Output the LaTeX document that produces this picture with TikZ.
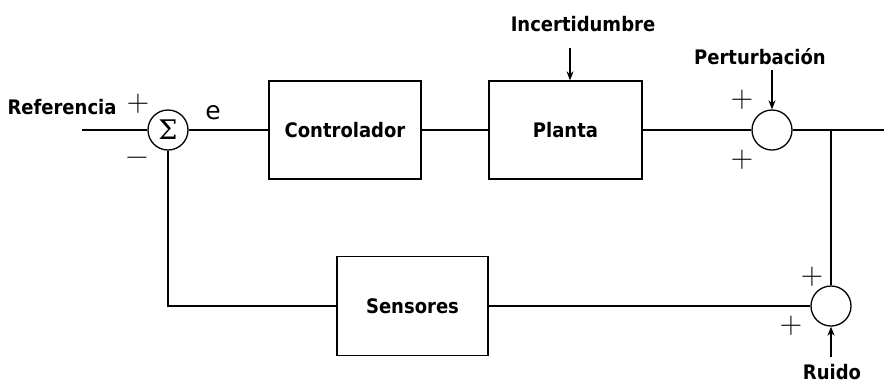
\documentclass[tikz,border=0pt]{standalone}
\usepackage{fontspec}
\setmainfont{DejaVu Sans}
\newfontfamily\condfont{DejaVu Sans Condensed}
\newfontfamily\lmfont{Latin Modern Roman}
\newfontfamily\serffont{DejaVu Serif}
\usetikzlibrary{arrows.meta,calc}
\begin{document}
\begin{tikzpicture}[x=1pt,y=-1pt,
  line width=1.3pt,
  blk/.style={draw,rectangle,inner sep=0pt,font=\condfont\fontsize{20}{23}\selectfont\bfseries},
  sumc/.style={draw,circle,minimum size=40pt,inner sep=0pt},
  lbl/.style={font=\condfont\fontsize{20}{23}\selectfont\bfseries,inner sep=0pt},
  sgn/.style={font=\lmfont\fontsize{31}{31}\selectfont,inner sep=0pt},
  arr/.style={-{Stealth[length=9pt,width=7pt]}}]
\useasboundingbox (0,0) rectangle (884,384);
% blocks
\node[blk,minimum width=152pt,minimum height=98pt] (ctrl) at (345,130) {Controlador};
\node[blk,minimum width=153pt,minimum height=98pt] (planta) at (565.5,130) {Planta};
\node[blk,minimum width=151pt,minimum height=99pt] (sens) at (412.5,306) {Sensores};
% summing junctions
\node[sumc] (sum) at (168,130) {\serffont\fontsize{27}{27}\selectfont\raisebox{0pt}{Σ}};
\node[sumc] (pert) at (772,130) {};
\node[sumc] (ruido) at (831,306) {};
% labels
\node[lbl] (reflbl) at (62,107) {Referencia};
\node[lbl] (inclbl) at (583,24) {Incertidumbre};
\node[lbl] (pertlbl) at (760,57) {Perturbación};
\node[lbl] (ruidolbl) at (832,372) {Ruido};
\node[font=\fontsize{25}{25}\selectfont,inner sep=0pt] (elbl) at (213,113) {e};
% signs
\node[sgn] (s1) at (138,104) {+};
\node[sgn] (s2) at (137,161) {−};
\node[sgn] (s3) at (742,100) {+};
\node[sgn] (s4) at (742,160) {+};
\node[sgn] (s5) at (812,277) {+};
\node[sgn] (s6) at (791,326) {+};
% coordinates
\coordinate (refin) at (82,130);
\coordinate (out) at (884,130);
\coordinate (branch) at (831,130);
\coordinate (incs) at (570,48);
\coordinate (perts) at (772,70);
\coordinate (ruidos) at (831,357);
% connectors
\draw (refin) -- (sum.west);
\draw (sum.east) -- (ctrl.west);
\draw (ctrl.east) -- (planta.west);
\draw (planta.east) -- (pert.west);
\draw (pert.east) -- (out);
\draw (branch) -- (ruido.north);
\draw (ruido.west) -- (sens.east);
\draw (sens.west) -| (sum.south);
\draw[arr] (incs) -- (incs |- planta.north);
\draw[arr] (perts) -- (pert.north);
\draw[arr] (ruidos) -- (ruido.south);
\end{tikzpicture}
\end{document}
